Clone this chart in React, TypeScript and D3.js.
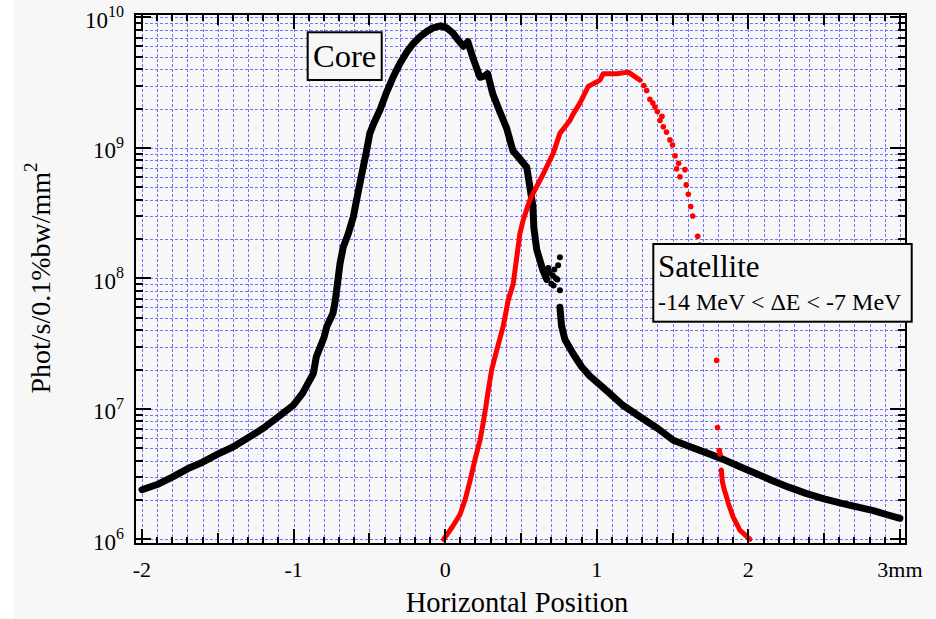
import React from 'react';
import * as d3 from 'd3';

// ---- axis ticks ----
const xTickValues = [-2, -1, 0, 1, 2, 3];
const xTickLabels = ['-2', '-1', '0', '1', '2', '3mm'];
const yTickExponents = [6, 7, 8, 9, 10];

// ---- Core (black) ----
const coreLeftX = [-2.0, -1.9, -1.8, -1.7, -1.6, -1.5, -1.4, -1.3, -1.2, -1.1, -1.0, -0.94, -0.87, -0.85, -0.8, -0.78, -0.74, -0.727, -0.716, -0.705, -0.694, -0.672, -0.639, -0.606, -0.584, -0.55, -0.52, -0.497, -0.47, -0.43, -0.39, -0.344, -0.3, -0.254, -0.21, -0.166, -0.12, -0.08, -0.03, 0.01, 0.05, 0.09, 0.12, 0.15, 0.18, 0.23, 0.26, 0.28, 0.315, 0.36, 0.406, 0.447, 0.49, 0.538, 0.559, 0.579, 0.585, 0.604, 0.645, 0.67];
const coreLeftY = [2.4e6, 2.63e6, 3.0e6, 3.47e6, 3.9e6, 4.5e6, 5.1e6, 6.0e6, 7.1e6, 8.7e6, 1.07e7, 1.32e7, 1.86e7, 2.5e7, 3.5e7, 4.3e7, 5.4e7, 6.5e7, 8.1e7, 1.02e8, 1.29e8, 1.74e8, 2.2e8, 2.95e8, 4.0e8, 6.3e8, 9.3e8, 1.29e9, 1.55e9, 1.95e9, 2.6e9, 3.47e9, 4.4e9, 5.4e9, 6.3e9, 7.1e9, 7.8e9, 8.3e9, 8.6e9, 8.3e9, 7.6e9, 6.6e9, 6.0e9, 6.5e9, 5.0e9, 3.47e9, 3.55e9, 3.7e9, 2.57e9, 1.9e9, 1.41e9, 9.5e8, 8.3e8, 7.1e8, 5.0e8, 3.55e8, 2.45e8, 1.66e8, 1.15e8, 9.8e7];
const coreScatterX = [0.68, 0.69, 0.7, 0.71, 0.715, 0.72, 0.73, 0.74, 0.745, 0.757, 0.757];
const coreScatterY = [1.2e8, 1.1e8, 9.1e7, 1.05e8, 8.8e7, 1.17e8, 1.0e8, 9.8e7, 1.26e8, 1.45e8, 8.1e7];
const coreRightX = [0.757, 0.768, 0.79, 0.845, 0.9, 0.955, 1.065, 1.17, 1.285, 1.4, 1.505, 1.62, 1.725, 1.835, 1.945, 2.05, 2.164, 2.27, 2.385, 2.5, 2.604, 2.71, 2.824, 2.91, 3.0];
const coreRightY = [6.0e7, 4.3e7, 3.4e7, 2.63e7, 2.1e7, 1.78e7, 1.38e7, 1.07e7, 8.7e6, 7.1e6, 5.75e6, 5.1e6, 4.6e6, 4.1e6, 3.6e6, 3.2e6, 2.8e6, 2.5e6, 2.24e6, 2.04e6, 1.9e6, 1.78e6, 1.66e6, 1.55e6, 1.45e6];

// ---- Satellite (red) ----
const satRiseX = [-0.01, 0.05, 0.098, 0.131, 0.164, 0.197, 0.23, 0.251, 0.269, 0.284, 0.307, 0.34, 0.383, 0.416, 0.449, 0.493, 0.515, 0.559, 0.581, 0.647, 0.713, 0.757, 0.823, 0.845, 0.889, 0.944, 0.977, 1.021, 1.043, 1.109, 1.131, 1.208, 1.285];
const satRiseY = [1.0e6, 1.26e6, 1.55e6, 2.0e6, 2.8e6, 4.1e6, 5.75e6, 7.8e6, 1.05e7, 1.38e7, 2.0e7, 2.8e7, 4.3e7, 6.8e7, 9.1e7, 2.2e8, 2.8e8, 4.0e8, 4.5e8, 6.3e8, 9.1e8, 1.29e9, 1.62e9, 1.82e9, 2.2e9, 2.95e9, 3.1e9, 3.3e9, 3.7e9, 3.7e9, 3.7e9, 3.8e9, 3.3e9];
const satSparseX = [1.31, 1.329, 1.351, 1.37, 1.384, 1.4, 1.417, 1.43, 1.439, 1.46, 1.483, 1.5, 1.516, 1.527, 1.54, 1.549, 1.582, 1.59, 1.604, 1.62, 1.633, 1.666, 1.679, 1.791, 1.797, 1.808, 1.813];
const satSparseY = [3.0e9, 2.75e9, 2.35e9, 2.2e9, 2.05e9, 1.9e9, 1.62e9, 1.74e9, 1.45e9, 1.32e9, 1.15e9, 1.05e9, 8.7e8, 6.9e8, 7.6e8, 6.0e8, 6.8e8, 5.2e8, 4.4e8, 3.55e8, 3.0e8, 2.1e8, 1.8e8, 2.35e7, 7.2e6, 4.8e6, 4.5e6];
const satTailX = [1.822, 1.828, 1.841, 1.852, 1.867, 1.9, 1.945, 2.011];
const satTailY = [3.4e6, 2.8e6, 2.4e6, 2.2e6, 1.9e6, 1.48e6, 1.17e6, 1.0e6];

const zip = (xs: number[], ys: number[]) => xs.map((v, i) => [v, ys[i]] as [number, number]);

export default function App() {
  const W = 936, H = 619;
  const left = 135, right = 906, top = 14.3, bottom = 544.3;
  const x = d3.scaleLinear().domain([-2.046, 3.04]).range([left, right]);
  const y = d3.scaleLog().domain([Math.pow(10, 5.962), Math.pow(10, 10.023)]).range([bottom, top]);
  const line = d3.line<[number, number]>().x(d => x(d[0])).y(d => y(d[1]));
  const snap = (p: number) => Math.round(p) + 0.5;

  const serif = '"Liberation Serif", "Times New Roman", serif';
  const gridColor = '#7272ff';

  const xMinor = d3.range(-20, 31).map(i => i / 10);
  const yGrid: number[] = [];
  for (let e = 6; e <= 9; e++) for (let k = 1; k <= 9; k++) yGrid.push(k * Math.pow(10, e));
  yGrid.push(1e10);

  const xTickLen = (v: number) => {
    const r = Math.round(v * 10);
    if (r % 10 === 0) return 15;
    if (r % 5 === 0) return 11;
    return 7;
  };
  const yTickLen = (v: number) => (Math.abs(Math.log10(v) - Math.round(Math.log10(v))) < 1e-6 ? 16 : 8);

  const core1 = zip(coreLeftX, coreLeftY);
  const core2 = zip(coreRightX, coreRightY);
  const coreSc = zip(coreScatterX, coreScatterY);
  const sat1 = zip(satRiseX, satRiseY);
  const satSp = zip(satSparseX, satSparseY);
  const sat2 = zip(satTailX, satTailY);

  const L = Math.round(left), R = Math.round(right), T = Math.round(top), B = Math.round(bottom);

  return (
    <svg width={W} height={H} style={{ position: 'absolute', left: 0, top: 0 }} fontFamily={serif}>
      <rect x={0} y={0} width={W} height={H} fill="#f7f7f7" />
      <rect x={0} y={0} width={14} height={H} fill="#ffffff" />

      {/* grid */}
      <g stroke={gridColor} strokeWidth={1} strokeDasharray="3,2" fill="none">
        {xMinor.map(v => (
          <line key={'gx' + v} x1={snap(x(v))} x2={snap(x(v))} y1={T} y2={B} />
        ))}
        {yGrid.map(v => (
          <line key={'gy' + v} x1={L} x2={R} y1={snap(y(v))} y2={snap(y(v))} />
        ))}
      </g>

      {/* core */}
      <g>
        <path d={line(core1) || ''} fill="none" stroke="#000" strokeWidth={7} strokeLinejoin="round" strokeLinecap="round" />
        <path d={line(core2) || ''} fill="none" stroke="#000" strokeWidth={7} strokeLinejoin="round" strokeLinecap="round" />
        {coreSc.map((d, i) => (
          <circle key={'cs' + i} cx={x(d[0])} cy={y(d[1])} r={3} fill="#000" />
        ))}
      </g>

      {/* satellite */}
      <g>
        <path d={line(sat1) || ''} fill="none" stroke="#ff0000" strokeWidth={5} strokeLinejoin="round" strokeLinecap="round" />
        <path d={line(sat2) || ''} fill="none" stroke="#ff0000" strokeWidth={5} strokeLinejoin="round" strokeLinecap="round" />
        {satSp.map((d, i) => (
          <circle key={'ss' + i} cx={x(d[0])} cy={y(d[1])} r={2.8} fill="#ff0000" />
        ))}
      </g>

      {/* axes frame */}
      <rect x={L} y={T} width={R - L} height={B - T} fill="none" stroke="#000" strokeWidth={2} />
      <g stroke="#000" strokeWidth={2}>
        {xMinor.map(v => (
          <g key={'tx' + v}>
            <line x1={Math.round(x(v))} x2={Math.round(x(v))} y1={B} y2={B - xTickLen(v)} />
            <line x1={Math.round(x(v))} x2={Math.round(x(v))} y1={T} y2={T + xTickLen(v)} />
          </g>
        ))}
        {yGrid.map(v => (
          <g key={'ty' + v}>
            <line x1={L} x2={L + yTickLen(v)} y1={Math.round(y(v))} y2={Math.round(y(v))} />
            <line x1={R} x2={R - yTickLen(v)} y1={Math.round(y(v))} y2={Math.round(y(v))} />
          </g>
        ))}
      </g>

      {/* x tick labels */}
      {xTickValues.map((v, i) => (
        <text key={'xl' + v} x={x(v)} y={576.5} fontSize={22} textAnchor="middle" fill="#000">
          {xTickLabels[i]}
        </text>
      ))}

      {/* y tick labels */}
      {yTickExponents.map(e => (
        <text key={'yl' + e} x={124} y={y(Math.pow(10, e)) + 10.6} fontSize={23} textAnchor="end" fill="#000">
          <tspan>10</tspan>
          <tspan fontSize={16} dy={-10.6}>{String(e)}</tspan>
        </text>
      ))}

      {/* axis titles */}
      <text x={517} y={612} fontSize={28.5} textAnchor="middle" fill="#000">Horizontal Position</text>
      <text transform="translate(50,278) rotate(-90)" fontSize={28} textAnchor="middle" fill="#000">
        <tspan>Phot/s/0.1%bw/mm</tspan>
        <tspan fontSize={19} dy={-13}>2</tspan>
      </text>

      {/* legend boxes */}
      <rect x={307.7} y={32.3} width={74} height={47.7} fill="#f7f7f7" stroke="#000" strokeWidth={2} />
      <text x={313} y={67} fontSize={32.5} fill="#000">Core</text>

      <rect x={653.3} y={244} width={258.4} height={77.7} fill="#f7f7f7" stroke="#000" strokeWidth={2} />
      <text x={658} y={277} fontSize={31} fill="#000">Satellite</text>
      <text x={658} y={310} fontSize={24} fill="#000">-14 MeV &lt; ΔE &lt; -7 MeV</text>
    </svg>
  );
}
